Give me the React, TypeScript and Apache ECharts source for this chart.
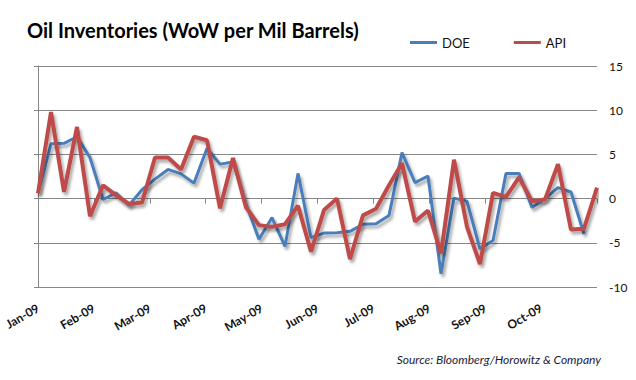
import React, { useEffect, useRef } from "react";
import * as echarts from "echarts";

const TITLE = "Oil Inventories (WoW per Mil Barrels)";
const SOURCE = "Source: Bloomberg/Horowitz & Company";
const MONTHS = ["Jan-09", "Feb-09", "Mar-09", "Apr-09", "May-09", "Jun-09", "Jul-09", "Aug-09", "Sep-09", "Oct-09", ""];
const WEEKS = [
  "W01", "W02", "W03", "W04", "W05", "W06", "W07", "W08", "W09", "W10", "W11",
  "W12", "W13", "W14", "W15", "W16", "W17", "W18", "W19", "W20", "W21", "W22",
  "W23", "W24", "W25", "W26", "W27", "W28", "W29", "W30", "W31", "W32", "W33",
  "W34", "W35", "W36", "W37", "W38", "W39", "W40", "W41", "W42", "W43", "W44",
];
const DOE: (number | null)[] = [
  0.6, 6.2, 6.25, 7.0, 4.65, -0.1, 0.65, -0.75, 1.0, 2.2, 3.3,
  2.8, 1.75, 5.7, 3.9, 4.15, -0.6, -4.6, -2.15, -5.4, 2.85, -4.4,
  -3.9, -3.85, -3.7, -2.9, -2.85, -1.9, 5.2, 1.8, 2.55, -8.5, 0.05,
  -0.3, -5.7, -4.75, 2.85, 2.85, -1.0, 0.0, 1.25, 0.75, -4.0, null,
];
const API: number[] = [
  0.6, 9.8, 0.75, 8.1, -2.0, 1.5, 0.4, -0.6, -0.45, 4.65, 4.65,
  3.3, 7.0, 6.6, -1.1, 4.6, -1.0, -3.0, -3.2, -2.9, -0.8, -6.0,
  -1.3, 0.0, -6.85, -1.9, -1.15, 1.5, 4.0, -2.6, -1.35, -6.2, 4.4,
  -3.2, -7.4, 0.65, 0.2, 2.4, -0.3, -0.1, 3.9, -3.5, -3.4, 1.25,
];
const Y_MIN = -10;
const Y_MAX = 15;
const Y_STEP = 5;

const GRID_COLOR = "#868686";
const FONT = "Lato, 'Open Sans', sans-serif";

export default function App() {
  const ref = useRef<HTMLDivElement>(null);
  useEffect(() => {
    if (!ref.current) return;
    const chart = echarts.init(ref.current, null, { renderer: "svg" });
    const shadow = {
      shadowColor: "rgba(0,0,0,0.35)",
      shadowBlur: 3,
      shadowOffsetX: 2,
      shadowOffsetY: 3,
    };
    chart.setOption({
      animation: false,
      backgroundColor: "#ffffff",
      title: {
        text: TITLE,
        left: 22,
        top: 15,
        textStyle: { fontFamily: FONT, fontWeight: "bold", fontSize: 20, color: "#000" },
      },
      legend: {
        data: ["DOE", "API"],
        left: 405,
        top: 31,
        itemWidth: 27,
        itemHeight: 3,
        itemGap: 44,
        itemStyle: { borderWidth: 0 },
        icon: "rect",
        textStyle: { fontFamily: FONT, fontSize: 13, color: "#111" },
      },
      grid: { left: 38, right: 39, top: 66, bottom: 93 },
      xAxis: [
        {
          type: "category",
          data: WEEKS,
          boundaryGap: false,
          show: false,
        },
        {
          type: "category",
          data: MONTHS,
          boundaryGap: false,
          position: "bottom",
          axisLine: { show: false, onZero: true },
          axisTick: { show: true, length: 5, lineStyle: { color: GRID_COLOR } },
          axisLabel: { show: false },
        },
        {
          type: "category",
          data: MONTHS,
          boundaryGap: false,
          position: "bottom",
          axisLine: { show: false, onZero: false },
          axisTick: { show: false },
          axisLabel: {
            show: true,
            rotate: 30,
            margin: 20,
            interval: 0,
            fontFamily: FONT,
            fontWeight: "bold",
            fontSize: 12,
            color: "#111",
          },
        },
      ],
      yAxis: [
        {
          type: "value",
          min: Y_MIN,
          max: Y_MAX,
          interval: Y_STEP,
          position: "left",
          axisLine: { show: true, lineStyle: { color: GRID_COLOR } },
          axisTick: { show: true, length: 4, lineStyle: { color: GRID_COLOR } },
          axisLabel: { show: false },
          splitLine: { show: true, lineStyle: { color: GRID_COLOR, width: 1 } },
        },
        {
          type: "value",
          min: Y_MIN,
          max: Y_MAX,
          interval: Y_STEP,
          position: "right",
          axisLine: { show: false },
          axisTick: { show: false },
          splitLine: { show: false },
          axisLabel: { margin: 12, fontFamily: FONT, fontSize: 12, color: "#111" },
        },
      ],
      series: [
        {
          name: "DOE",
          type: "line",
          data: DOE,
          xAxisIndex: 0,
          yAxisIndex: 0,
          symbol: "none",
          color: "#4A7EBB",
          lineStyle: { width: 3, color: "#4A7EBB", ...shadow },
        },
        {
          name: "API",
          type: "line",
          data: API,
          xAxisIndex: 0,
          yAxisIndex: 0,
          symbol: "none",
          color: "#BE4B48",
          lineStyle: { width: 4, color: "#BE4B48", ...shadow },
        },
      ],
      graphic: [
        {
          type: "text",
          x: 601,
          y: 359,
          style: {
            text: SOURCE,
            fontFamily: FONT,
            fontStyle: "italic",
            fontSize: 12,
            fill: "#1a1a3a",
            align: "right",
            verticalAlign: "middle",
          },
        },
      ],
    });
    return () => chart.dispose();
  }, []);
  return (
    <div
      ref={ref}
      style={{ position: "absolute", left: 0, top: 0, width: 636, height: 380 }}
    />
  );
}
